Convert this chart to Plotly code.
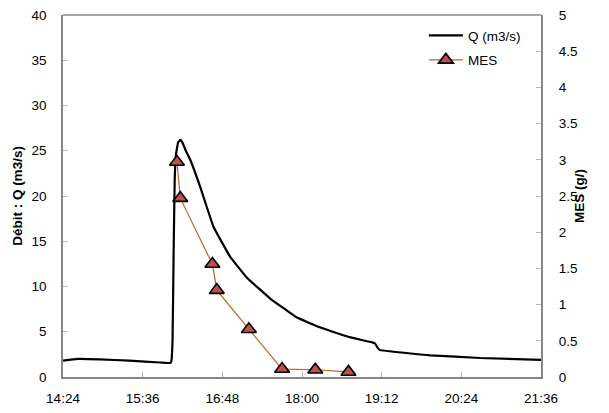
import plotly.graph_objects as go

DAY = "2000-01-01 "

q_times = ["14:24", "14:37", "14:57", "15:24", "15:52", "16:01", "16:02", "16:03",
           "16:04", "16:05", "16:06", "16:08", "16:10", "16:12", "16:15", "16:19",
           "16:28", "16:40", "16:55", "17:10", "17:31", "17:55", "18:16", "18:34",
           "18:43", "19:04", "19:06", "19:08", "19:10", "19:56", "20:41", "21:36"]
q_values = [1.8, 2.0, 1.95, 1.8, 1.6, 1.55, 1.8, 4.0,
            14.0, 22.0, 24.5, 25.9, 26.2, 25.9, 25.0, 24.0,
            21.0, 16.6, 13.3, 11.0, 8.7, 6.6, 5.5, 4.75,
            4.4, 3.8, 3.7, 3.3, 3.0, 2.4, 2.1, 1.9]

mes_times = ["16:07", "16:10", "16:39", "16:43", "17:12", "17:42", "18:12", "18:42"]
mes_values = [2.97, 2.47, 1.56, 1.20, 0.66, 0.11, 0.10, 0.07]

x_tick_labels = ["14:24", "15:36", "16:48", "18:00", "19:12", "20:24", "21:36"]

FONT = "Liberation Sans, Arial, sans-serif"
AXIS_COLOR = "#868686"
TICK_COLOR = "#BBBBBB"

fig = go.Figure()
fig.add_trace(go.Scatter(
    x=[DAY + t for t in q_times], y=q_values, name="Q (m3/s)", legendgroup="q",
    mode="lines", line=dict(color="black", width=2.2, shape="spline", smoothing=0.25),
))
fig.add_trace(go.Scatter(
    x=[DAY + t for t in mes_times], y=mes_values, name="MES", yaxis="y2",
    legendgroup="mes",
    mode="lines+markers", line=dict(color="#C0651F", width=1.2),
    marker=dict(symbol="triangle-up", size=13, color="#C0504D",
                line=dict(color="black", width=1.6)),
))

fig.update_layout(
    width=601, height=405,
    margin=dict(l=55, r=68, t=7, b=36, autoexpand=False),
    paper_bgcolor="white", plot_bgcolor="white",
    font=dict(family=FONT, size=13.5, color="black"),
    showlegend=True,
    legend=dict(x=0.755, y=0.986, xanchor="left", yanchor="top",
                bgcolor="rgba(0,0,0,0)", font=dict(size=13.5),
                tracegroupgap=4, itemwidth=34),
    xaxis=dict(
        type="date", range=[DAY + "14:24", DAY + "21:36"],
        tickvals=[DAY + t for t in x_tick_labels], ticktext=x_tick_labels,
        showgrid=False, showline=True, linecolor=AXIS_COLOR, linewidth=1.5,
        ticks="inside", ticklen=5, tickcolor=TICK_COLOR,
        zeroline=False, automargin=False, ticklabelstandoff=8,
        ticklabeloverflow="allow",
    ),
    yaxis=dict(
        range=[0, 40], dtick=5, showgrid=False, zeroline=False,
        showline=True, linecolor=AXIS_COLOR, linewidth=1.5,
        ticks="inside", ticklen=5, tickcolor=TICK_COLOR,
        automargin=False, ticklabelstandoff=12, ticklabeloverflow="allow",
        title=dict(text="<b>Débit : Q (m3/s)</b>", font=dict(size=13.5), standoff=6),
    ),
    yaxis2=dict(
        range=[0, 5], dtick=0.5, overlaying="y", side="right",
        showgrid=False, zeroline=False,
        showline=True, linecolor=AXIS_COLOR, linewidth=2,
        ticks="inside", ticklen=5, tickcolor=TICK_COLOR,
        automargin=False, ticklabelstandoff=13, ticklabeloverflow="allow",
    ),
    annotations=[dict(
        text="<b>MES (g/)</b>", xref="paper", yref="paper", x=1, y=0.5,
        xshift=38, textangle=-90, showarrow=False, font=dict(size=13.5),
        xanchor="center", yanchor="middle",
    )],
)
# top frame line
fig.add_shape(type="line", xref="paper", yref="paper", x0=0, x1=1, y0=1, y1=1,
              line=dict(color=AXIS_COLOR, width=1.5))

fig.write_html("out.html")
